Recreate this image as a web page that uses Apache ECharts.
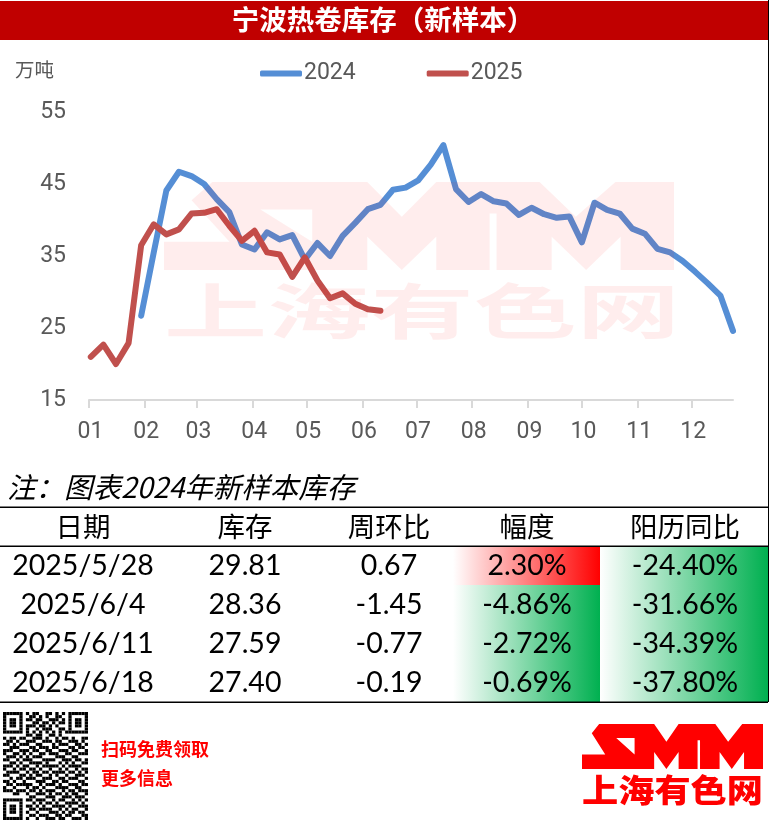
<!DOCTYPE html>
<html lang="zh">
<head>
  <meta charset="UTF-8">
  <title>宁波热卷库存（新样本）</title>
  <script src="https://cdn.jsdelivr.net/npm/echarts@6/dist/echarts.min.js"></script>
  <style>
    html, body { margin: 0; padding: 0; background: #fff; }
    #chart { width: 769px; height: 825px; }
  </style>
</head>
<body>
  <div id="chart"></div>
  <script>
    // 周度日期（都放到同一年的日期轴上）
    const weekDates = [
      '2024-01-02','2024-01-09','2024-01-16','2024-01-23','2024-01-30',
      '2024-02-06','2024-02-13','2024-02-20','2024-02-27',
      '2024-03-05','2024-03-12','2024-03-19','2024-03-26',
      '2024-04-02','2024-04-09','2024-04-16','2024-04-23','2024-04-30',
      '2024-05-07','2024-05-14','2024-05-21','2024-05-28',
      '2024-06-04','2024-06-11','2024-06-18','2024-06-25',
      '2024-07-02','2024-07-09','2024-07-16','2024-07-23','2024-07-30',
      '2024-08-06','2024-08-13','2024-08-20','2024-08-27',
      '2024-09-03','2024-09-10','2024-09-17','2024-09-24',
      '2024-10-01','2024-10-08','2024-10-15','2024-10-22','2024-10-29',
      '2024-11-05','2024-11-12','2024-11-19','2024-11-26',
      '2024-12-03','2024-12-10','2024-12-17','2024-12-24'
    ]
    const monthStarts = [
      '2024-01-01','2024-02-01','2024-03-01','2024-04-01','2024-05-01','2024-06-01',
      '2024-07-01','2024-08-01','2024-09-01','2024-10-01','2024-11-01','2024-12-01'
    ]
    // 2024 从第5周开始有数据
    const values2024 = [
      null, null, null, null,
      26.7, 35.5, 44.1, 46.7, 46.1, 45.0, 42.9, 41.1, 36.6, 35.9, 38.3, 37.3,
      37.9, 34.5, 36.8, 35.0, 37.8, 39.6, 41.5, 42.1, 44.2, 44.5, 45.5, 47.7,
      50.4, 44.3, 42.5, 43.6, 42.6, 42.3, 40.7, 41.7, 40.8, 40.3, 40.5, 36.9,
      42.4, 41.4, 40.9, 38.8, 38.1, 36.0, 35.5, 34.3, 32.8, 31.2, 29.5, 24.6
    ]
    const values2025 = [
      21.0, 22.7, 20.0, 22.9, 36.5, 39.4, 38.0, 38.7, 40.9, 41.0, 41.5, 39.2,
      37.1, 38.5, 35.5, 35.2, 32.1, 34.8, 31.6, 29.14, 29.81, 28.36, 27.59, 27.40
    ]

    // 表格
    const tableHeaders = ['日期', '库存', '周环比', '幅度', '阳历同比']
    const tableDates = ['2025/5/28', '2025/6/4', '2025/6/11', '2025/6/18']
    const tableStock = ['29.81', '28.36', '27.59', '27.40']
    const tableWeekly = ['0.67', '-1.45', '-0.77', '-0.19']
    const tableChange = ['2.30%', '-4.86%', '-2.72%', '-0.69%']
    const tableYoy = ['-24.40%', '-31.66%', '-34.39%', '-37.80%']

    // 二维码（示意）
    const qrRows = [
      '11111101011001101010111111',
      '10000100110101001100100001',
      '10110101101100111010101101',
      '10110100011011010110101101',
      '10110101110110101000101101',
      '10000101001011100110100001',
      '11111101010101010101111111',
      '00000001101100110100000000',
      '10110110011101001011010011',
      '01101001110011101100111010',
      '11010111001100010111001101',
      '00111000110111011000110110',
      '11100111011001100111011001',
      '10011010100110111001100111',
      '01110101011100001110011000',
      '11001011100011110011101101',
      '00110100111101000101010011',
      '11101011001011111010111100',
      '10010110110100100101001011',
      '01111001011011011110110101',
      '11000110101100101001001110',
      '00101101110011100110111001',
      '11010010001110011011000110',
      '01101111100101110100111011',
      '10010001011010001111001100',
      '11101110110101110010110111',
      '00011001001110101101011001',
      '00000000110001110011101110',
      '11111101101110010110010101',
      '10000100010101101001111010',
      '10110101101010011110100111',
      '10110100110111100101011001',
      '10110101001000111010110110',
      '10000100110111001101100011',
      '11111101001001110110011101'
    ]

    // SMM 标志轮廓（水印和右下角共用），最后一段经接缝绕回去挖出 S 的缺口
    const smmOutline = [
      [180,35],[630,35],[730,140],[830,35],[1130,35],[1235,140],[1350,35],[1520,35],[1520,300],
      [1365,300],[1365,200],[1265,300],[1165,200],[1165,300],[1005,300],[1005,130],[985,130],[985,300],
      [830,300],[830,200],[730,300],[630,200],[630,300],[40,300],[40,215],[230,215],[120,90],
      [320,118],[470,215],[470,118],[320,118],[120,90]
    ]

    const cjk = '"Noto Sans CJK SC"'
    const tableFont = '28.5px Lato, ' + cjk
    const colCenters = [83, 245, 389, 527, 685]
    const rowCenters = [566, 605, 644, 683]
    const rowTop = 546, rowH = 39

    function label(text, x, y, font, fill, align, scaleX) {
      return {
        type: 'text', x: x, y: y, scaleX: scaleX || 1, silent: true, z: 10,
        style: { text: text, font: font, fill: fill || '#000', align: align || 'center', verticalAlign: 'middle' }
      }
    }
    function block(x, y, w, h, fill, z) {
      return { type: 'rect', silent: true, z: z || 1, shape: { x: x, y: y, width: w, height: h }, style: { fill: fill } }
    }
    function fade(color) {
      return new echarts.graphic.LinearGradient(0, 0, 1, 0, [
        { offset: 0, color: '#fff' }, { offset: 1, color: color }
      ])
    }
    function smmLogo(x, y, w, h, fill, z) {
      return {
        type: 'polygon', silent: true, z: z,
        shape: { points: smmOutline.map(p => [x + (p[0] - 40) / 1480 * w, y + (p[1] - 35) / 265 * h]) },
        style: { fill: fill }
      }
    }
    function ms(d) { return new Date(d + 'T00:00:00').getTime() }
    function monthLabel(v) { return String(new Date(v).getMonth() + 1).padStart(2, '0') }

    const graphics = []
    // 标题
    graphics.push(block(0, 1, 768, 39, '#C00000'))
    graphics.push(label('宁波热卷库存（新样本）', 383, 20, 'bold 27.5px ' + cjk, '#fff'))
    graphics.push(block(768, 0, 1, 702, '#000'))
    graphics.push(label('万吨', 15, 70, '19.5px ' + cjk, '#595959', 'left'))

    // 水印压在线上面
    const wmFill = 'rgba(255,0,0,0.07)'
    graphics.push(smmLogo(164, 182, 510, 88, wmFill, 50))
    const wmText = label('上海有色网', 422, 311, 'bold 60px ' + cjk, wmFill, 'center', 1.72)
    wmText.z = 50
    graphics.push(wmText)

    // 注释和表格
    graphics.push(label('注：图表2024年新样本库存', 7, 487, 'italic 28.5px ' + cjk, '#000', 'left'))
    tableHeaders.forEach((h, i) => {
      graphics.push(label(h, colCenters[i], 527, '27.5px ' + cjk))
    })
    tableDates.forEach((d, r) => {
      const top = rowTop + r * rowH
      graphics.push(block(453, top, 147, rowH, fade(tableChange[r][0] === '-' ? '#00B050' : '#FF0000')))
      graphics.push(block(600, top, 168, rowH, fade('#00B050')))
      ;[d, tableStock[r], tableWeekly[r], tableChange[r], tableYoy[r]].forEach((t, c) => {
        graphics.push(label(t, colCenters[c], rowCenters[r], tableFont))
      })
    })
    graphics.push(block(0, 506.5, 768, 1.5, '#000', 2))
    graphics.push(block(0, 545.5, 768, 1.5, '#000', 2))
    graphics.push(block(0, 701.5, 768, 1.5, '#000', 2))

    // 底部
    const qrCellW = 85 / 26, qrCellH = 108 / qrRows.length
    qrRows.forEach((row, r) => {
      row.split('').forEach((v, c) => {
        if (v === '1') graphics.push(block(3 + c * qrCellW, 712 + r * qrCellH, qrCellW, qrCellH, '#000'))
      })
    })
    graphics.push(label('扫码免费领取', 101, 749, 'bold 18px ' + cjk, '#FF0000', 'left'))
    graphics.push(label('更多信息', 101, 778, 'bold 18px ' + cjk, '#FF0000', 'left'))
    graphics.push(smmLogo(582, 724, 181, 45, '#FF0000', 10))
    graphics.push(label('上海有色网', 672.5, 790, '900 32px ' + cjk, '#FF0000', 'center', 1.13))

    const monthTicks = monthStarts.map(ms)

    const chart = echarts.init(document.getElementById('chart'))
    chart.setOption({
      animation: false,
      backgroundColor: '#fff',
      textStyle: { fontFamily: 'Roboto, ' + cjk },
      grid: { left: 89, right: 36, top: 112, bottom: 425 },
      legend: {
        left: 255, top: 57,
        icon: 'roundRect',
        itemWidth: 42, itemHeight: 6, itemGap: 71,
        textStyle: { fontSize: 23, color: '#595959', padding: [0, 0, 0, -3] },
        data: ['2024', '2025']
      },
      xAxis: {
        type: 'value',
        min: ms('2024-01-01'),
        max: ms('2024-12-24'),
        splitLine: { show: false },
        axisLine: { lineStyle: { color: '#D9D9D9', width: 2 } },
        axisTick: { show: true, length: 8, customValues: monthTicks, lineStyle: { color: '#D9D9D9', width: 2 } },
        axisLabel: {
          customValues: monthTicks,
          formatter: monthLabel,
          margin: 21,
          padding: [0, 0, 0, 3],
          fontSize: 23,
          color: '#595959'
        }
      },
      yAxis: {
        type: 'value',
        min: 15, max: 55, interval: 10,
        splitLine: { show: false },
        axisLine: { show: false },
        axisTick: { show: false },
        axisLabel: { margin: 23, fontSize: 23, color: '#595959' }
      },
      graphic: graphics,
      series: [
        {
          name: '2024', type: 'line', symbol: 'none', color: '#558ED5',
          lineStyle: { width: 6, cap: 'round', join: 'round' },
          data: weekDates.map((d, i) => [ms(d), values2024[i]])
        },
        {
          name: '2025', type: 'line', symbol: 'none', color: '#C0504D',
          lineStyle: { width: 6, cap: 'round', join: 'round' },
          data: values2025.map((v, i) => [ms(weekDates[i]), v])
        }
      ]
    })
  </script>
</body>
</html>
